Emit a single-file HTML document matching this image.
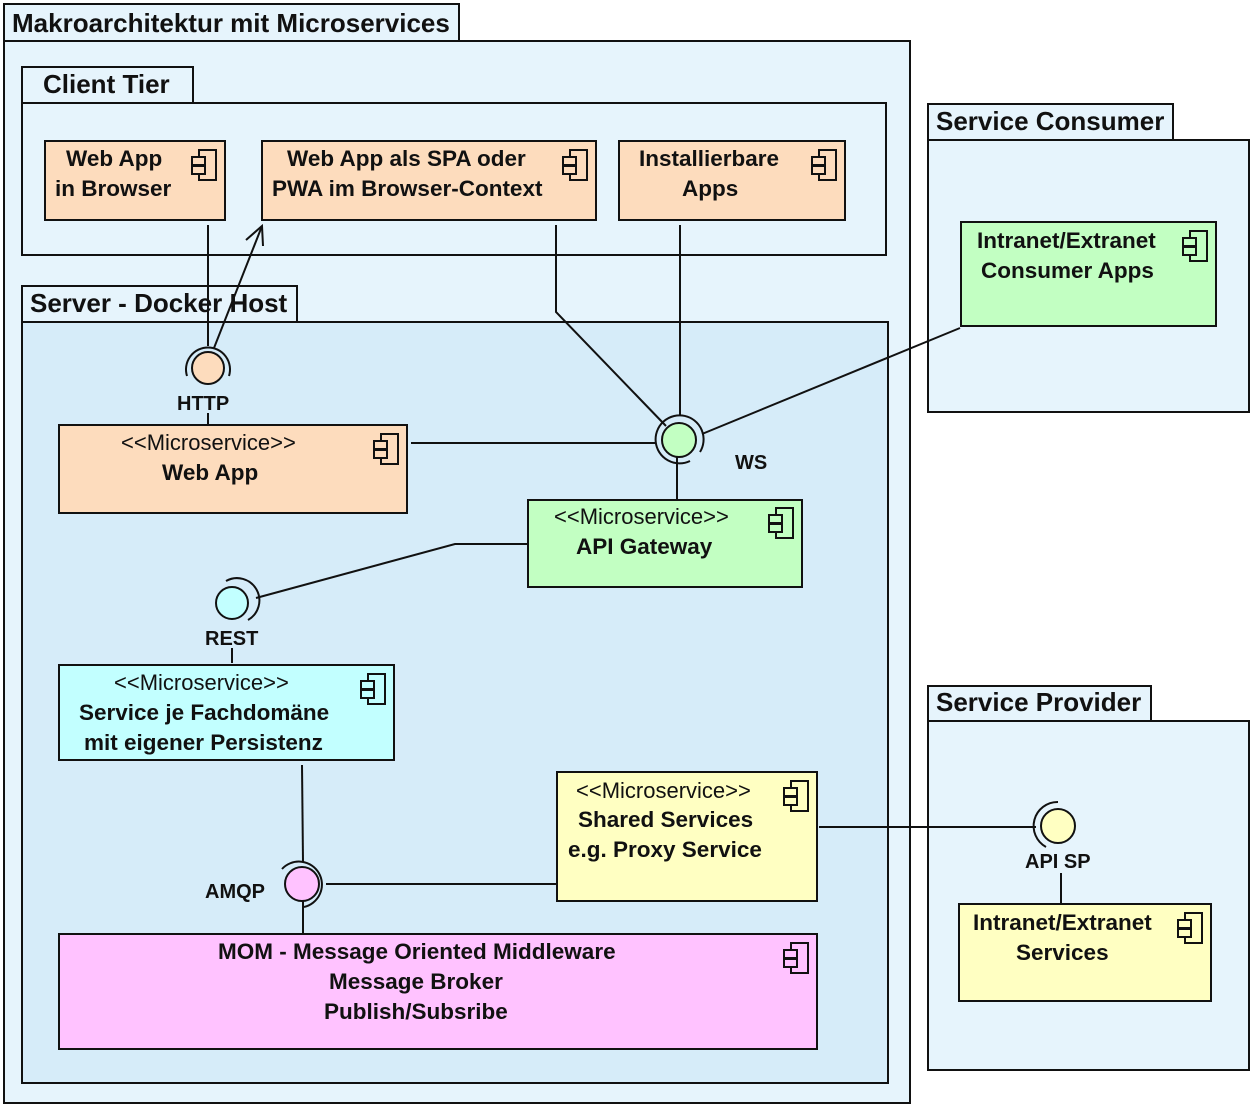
<!DOCTYPE html>
<html><head><meta charset="utf-8"><style>
html,body{margin:0;padding:0;background:#fff}
svg{display:block}
text{font-family:"Liberation Sans",Arial,sans-serif;fill:#111}
.b{font-weight:bold;font-size:22.5px}
.t{font-weight:bold;font-size:26px}
.s{font-size:22px}
</style></head><body>
<svg width="1259" height="1118" viewBox="0 0 1259 1118" xmlns="http://www.w3.org/2000/svg">
<defs>
<g id="ci" stroke="#111" stroke-width="2">
<rect x="7" y="0" width="17" height="30" fill="none"/>
<rect x="0" y="7" width="13" height="8" fill="currentColor"/>
<rect x="0" y="16" width="13" height="8" fill="currentColor"/>
</g>
</defs>
<rect width="1259" height="1118" fill="#fff"/>
<rect x="4" y="4" width="455" height="37" fill="#e6f4fc" stroke="#111" stroke-width="2"/>
<rect x="4" y="41" width="906" height="1062" fill="#e6f4fc" stroke="#111" stroke-width="2"/>
<text x="12" y="32" class="t">Makroarchitektur mit Microservices</text>
<rect x="22" y="67" width="171" height="36" fill="#e6f4fc" stroke="#111" stroke-width="2"/>
<rect x="22" y="103" width="864" height="152" fill="#e6f4fc" stroke="#111" stroke-width="2"/>
<text x="43" y="93" class="t">Client Tier</text>
<rect x="22" y="286" width="275" height="36" fill="#e6f4fc" stroke="#111" stroke-width="2"/>
<rect x="22" y="322" width="866" height="761" fill="#d6ecf9" stroke="#111" stroke-width="2"/>
<text x="30" y="312" class="t">Server - Docker Host</text>
<rect x="928" y="104" width="245" height="36" fill="#e6f4fc" stroke="#111" stroke-width="2"/>
<rect x="928" y="140" width="321" height="272" fill="#e6f4fc" stroke="#111" stroke-width="2"/>
<text x="936" y="130" class="t">Service Consumer</text>
<rect x="928" y="686" width="223" height="35" fill="#e6f4fc" stroke="#111" stroke-width="2"/>
<rect x="928" y="721" width="321" height="349" fill="#e6f4fc" stroke="#111" stroke-width="2"/>
<text x="936" y="711" class="t">Service Provider</text>

<g stroke="#111" stroke-width="2" fill="none">
<line x1="208" y1="225" x2="208" y2="346"/>
<line x1="214" y1="348" x2="262" y2="226"/>
<polyline points="246,240 262,226 263,246"/>
<line x1="208" y1="413" x2="208" y2="425"/>
<polyline points="556,225 556,312 666,426"/>
<line x1="680" y1="225" x2="680" y2="416"/>
<line x1="411" y1="443" x2="656" y2="443"/>
<line x1="702" y1="434" x2="960" y2="328"/>
<line x1="677" y1="456" x2="677" y2="500"/>
<polyline points="528,544 455,544 256,598"/>
<line x1="232" y1="648" x2="232" y2="663"/>
<line x1="302" y1="765" x2="303" y2="862"/>
<line x1="326" y1="884" x2="557" y2="884"/>
<line x1="303" y1="900" x2="303" y2="934"/>
<line x1="819" y1="827" x2="1036" y2="827"/>
<line x1="1061" y1="873" x2="1061" y2="904"/>
</g>

<g stroke="#111" stroke-width="2">
<rect x="45" y="141" width="180" height="79" fill="#fddcbd"/>
<rect x="262" y="141" width="334" height="79" fill="#fddcbd"/>
<rect x="619" y="141" width="226" height="79" fill="#fddcbd"/>
<rect x="961" y="222" width="255" height="104" fill="#c2ffc2"/>
<rect x="59" y="425" width="348" height="88" fill="#fddcbd"/>
<rect x="528" y="500" width="274" height="87" fill="#c2ffc2"/>
<rect x="59" y="665" width="335" height="95" fill="#c2ffff"/>
<rect x="557" y="772" width="260" height="129" fill="#ffffc2"/>
<rect x="59" y="934" width="758" height="115" fill="#ffc2ff"/>
<rect x="959" y="904" width="252" height="97" fill="#ffffc2"/>
</g>
<use href="#ci" x="192" y="150" color="#fddcbd"/>
<use href="#ci" x="563" y="150" color="#fddcbd"/>
<use href="#ci" x="812" y="150" color="#fddcbd"/>
<use href="#ci" x="1183" y="231" color="#c2ffc2"/>
<use href="#ci" x="374" y="434" color="#fddcbd"/>
<use href="#ci" x="769" y="508" color="#c2ffc2"/>
<use href="#ci" x="361" y="674" color="#c2ffff"/>
<use href="#ci" x="784" y="781" color="#ffffc2"/>
<use href="#ci" x="784" y="943" color="#ffc2ff"/>
<use href="#ci" x="1178" y="913" color="#ffffc2"/>

<g stroke="#111" stroke-width="2">
<circle cx="208" cy="368" r="16" fill="#fddcbd"/>
<path d="M187,376 A22,22 0 1 1 229,376" fill="none"/>
<circle cx="679" cy="440" r="17" fill="#c2ffc2"/>
<path d="M690,461 A24,24 0 1 1 700,452" fill="none"/>
<circle cx="232" cy="603" r="16" fill="#c2ffff"/>
<path d="M226,581 A22,22 0 0 1 248,620" fill="none"/>
<circle cx="302" cy="884" r="17" fill="#ffc2ff"/>
<path d="M282,869 A23,23 0 1 1 304,907" fill="none"/>
<circle cx="1058" cy="826" r="17" fill="#ffffc2"/>
<path d="M1058,802 A24,24 0 0 0 1046,847" fill="none"/>
</g>

<g>
<text x="66" y="166" class="b">Web App</text>
<text x="55" y="196" class="b">in Browser</text>
<text x="287" y="166" class="b">Web App als SPA oder</text>
<text x="272" y="196" class="b">PWA im Browser-Context</text>
<text x="639" y="166" class="b">Installierbare</text>
<text x="682" y="196" class="b">Apps</text>
<text x="977" y="248" class="b">Intranet/Extranet</text>
<text x="981" y="278" class="b">Consumer Apps</text>
<text x="177" y="410" class="b" style="font-size:20px">HTTP</text>
<text x="735" y="469" class="b" style="font-size:20px">WS</text>
<text x="205" y="645" class="b" style="font-size:20px">REST</text>
<text x="205" y="898" class="b" style="font-size:20px">AMQP</text>
<text x="1025" y="868" class="b" style="font-size:20px">API SP</text>
<text x="162" y="480" class="b">Web App</text>
<text x="576" y="554" class="b">API Gateway</text>
<text x="79" y="720" class="b">Service je Fachdomäne</text>
<text x="84" y="750" class="b">mit eigener Persistenz</text>
<text x="578" y="827" class="b">Shared Services</text>
<text x="568" y="857" class="b">e.g. Proxy Service</text>
<text x="218" y="959" class="b">MOM - Message Oriented Middleware</text>
<text x="329" y="989" class="b">Message Broker</text>
<text x="324" y="1019" class="b">Publish/Subsribe</text>
<text x="973" y="930" class="b">Intranet/Extranet</text>
<text x="1016" y="960" class="b">Services</text>
</g>
<text x="121" y="450" class="s">&lt;&lt;Microservice&gt;&gt;</text>
<text x="554" y="524" class="s">&lt;&lt;Microservice&gt;&gt;</text>
<text x="114" y="690" class="s">&lt;&lt;Microservice&gt;&gt;</text>
<text x="576" y="798" class="s">&lt;&lt;Microservice&gt;&gt;</text>
</svg>
</body></html>
